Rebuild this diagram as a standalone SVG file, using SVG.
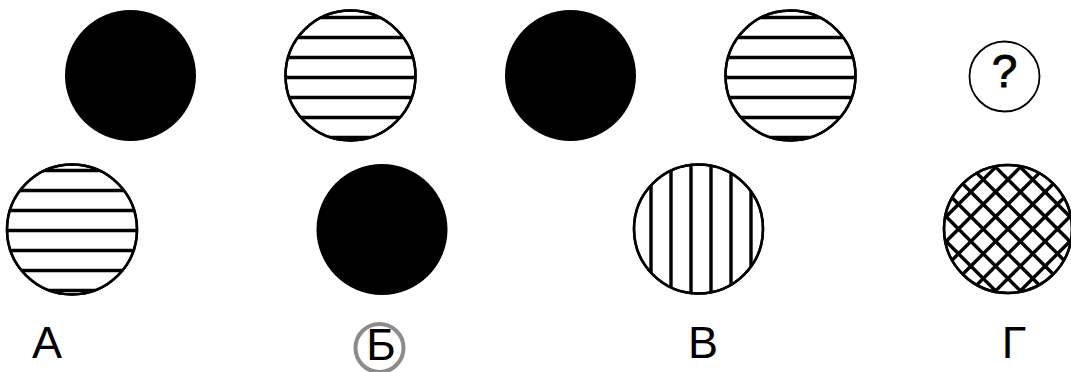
<svg xmlns="http://www.w3.org/2000/svg" width="1071" height="372" viewBox="0 0 1071 372">
<style>
.solid{fill:#000;}
.ring{fill:#fff;stroke:#000;stroke-width:2.5;}
.edge{fill:none;stroke:#000;stroke-width:2.5;}
.hatch{fill:none;stroke:#000;stroke-width:3.4;}
.lbl{font-family:"Liberation Sans",Arial,sans-serif;font-size:45px;fill:#000;text-anchor:middle;}
</style>
<defs>
<clipPath id="cB1"><circle cx="350.5" cy="75.5" r="65"/></clipPath>
<clipPath id="cD1"><circle cx="790.5" cy="75.5" r="65"/></clipPath>
<clipPath id="cA2"><circle cx="72" cy="229.5" r="65"/></clipPath>
<clipPath id="cV2"><circle cx="698.5" cy="229" r="64.5"/></clipPath>
<clipPath id="cG2"><circle cx="1008" cy="229" r="64"/></clipPath>
</defs>
<rect width="1071" height="372" fill="#fff"/>
<g id="top-1"><circle class="solid" cx="130.5" cy="75.5" r="65.5"/></g>
<g id="top-2">
<circle class="ring" cx="350.5" cy="75.5" r="65"/>
<path class="hatch" clip-path="url(#cB1)" d="M280 17.5H421M280 37.5H421M280 57.5H421M280 77.5H421M280 97.5H421M280 117.5H421M280 137.5H421"/>
<circle class="edge" cx="350.5" cy="75.5" r="65"/>
</g>
<g id="top-3"><circle class="solid" cx="570.5" cy="75.5" r="65.5"/></g>
<g id="top-4">
<circle class="ring" cx="790.5" cy="75.5" r="65"/>
<path class="hatch" clip-path="url(#cD1)" d="M720 17.5H861M720 37.5H861M720 57.5H861M720 77.5H861M720 97.5H861M720 117.5H861M720 137.5H861"/>
<circle class="edge" cx="790.5" cy="75.5" r="65"/>
</g>
<g id="top-question">
<circle cx="1004.5" cy="76.5" r="35" fill="#fff" stroke="#000" stroke-width="1.8"/>
<text x="1004.5" y="87" style="font-family:'Liberation Sans',Arial,sans-serif;font-size:46px;text-anchor:middle;fill:#000;stroke:#000;stroke-width:0.9;">?</text>
</g>
<g id="option-A">
<circle class="ring" cx="72" cy="229.5" r="65"/>
<path class="hatch" clip-path="url(#cA2)" d="M0 170.5H143M0 190.5H143M0 210.5H143M0 230.5H143M0 250.5H143M0 270.5H143M0 290.5H143"/>
<circle class="edge" cx="72" cy="229.5" r="65"/>
<text class="lbl" x="47" y="358">А</text>
</g>
<g id="option-B">
<circle class="solid" cx="382" cy="229.5" r="65.5"/>
<circle cx="379.5" cy="348" r="24" fill="none" stroke="#8c8c8c" stroke-width="4"/>
<text class="lbl" x="381" y="360">Б</text>
</g>
<g id="option-V">
<circle class="ring" cx="698.5" cy="229" r="64.5"/>
<path class="hatch" clip-path="url(#cV2)" d="M651 160V300M671 160V300M691 160V300M711 160V300M731 160V300M751 160V300"/>
<circle class="edge" cx="698.5" cy="229" r="64.5"/>
<text class="lbl" x="703" y="358">В</text>
</g>
<g id="option-G">
<circle class="ring" cx="1008" cy="229" r="64"/>
<path class="hatch" clip-path="url(#cG2)" d="M908 254.75L1108 54.75M908 279.5L1108 79.5M908 304.25L1108 104.25M908 329L1108 129M908 353.75L1108 153.75M908 378.5L1108 178.5M908 403.25L1108 203.25M908 54.75L1108 254.75M908 79.5L1108 279.5M908 104.25L1108 304.25M908 129L1108 329M908 153.75L1108 353.75M908 178.5L1108 378.5M908 203.25L1108 403.25"/>
<circle class="edge" cx="1008" cy="229" r="64"/>
<text class="lbl" x="1014" y="358">Г</text>
</g>
</svg>
